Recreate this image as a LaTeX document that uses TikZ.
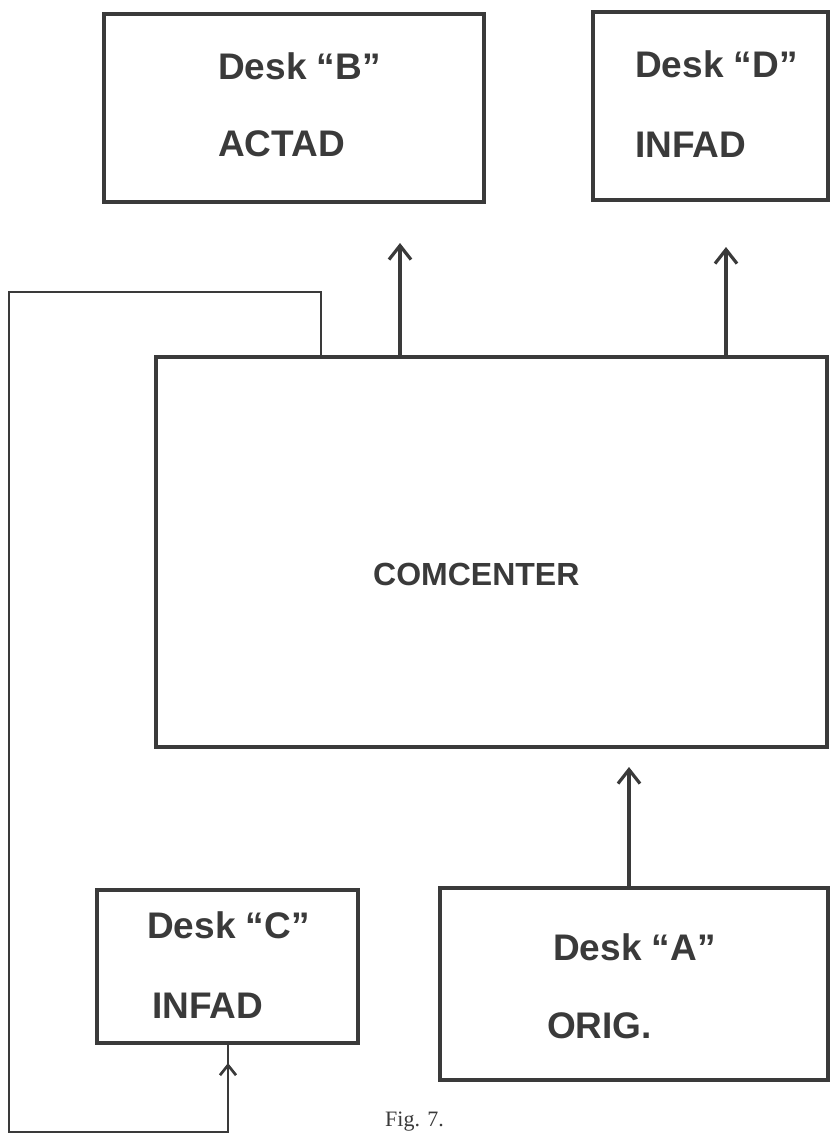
\documentclass[tikz,border=0pt]{standalone}
\usepackage{fontspec}
\setmainfont{Liberation Sans}
\newfontfamily\capfont{Liberation Serif}
\usetikzlibrary{arrows.meta}
\definecolor{ink}{HTML}{3A3A3A}
\begin{document}
\begin{tikzpicture}[x=1pt,y=-1pt,
  box/.style={draw=ink, line width=4pt, rectangle, inner sep=0pt},
  lbl/.style={anchor=base west, inner sep=0pt, text=ink, font=\fontsize{37}{40}\selectfont\bfseries},
  comlbl/.style={anchor=base west, inner sep=0pt, text=ink, font=\fontsize{32}{36}\selectfont\bfseries},
  flow/.style={draw=ink, line width=3.2pt, -{Straight Barb[length=14pt,width=22pt,line width=3.2pt]}},
  loopline/.style={draw=ink, line width=2.7pt},
  looparrow/.style={draw=ink, line width=2.7pt, -{Straight Barb[length=10pt,width=16pt,line width=2.7pt]}}]
\useasboundingbox (0,0) rectangle (831,1134);

% boxes
\node[box, minimum width=380pt, minimum height=188pt] (B) at (294,108) {};
\node[box, minimum width=235pt, minimum height=188pt] (D) at (710.5,106) {};
\node[box, minimum width=671pt, minimum height=390pt] (COM) at (491.5,552) {};
\node[box, minimum width=388pt, minimum height=192pt] (A) at (634,984) {};
\node[box, minimum width=261pt, minimum height=153pt] (C) at (227.5,966.5) {};

% labels
\node[lbl] (tB1) at (218,80) {Desk “B”};
\node[lbl] (tB2) at (218,157) {ACTAD};
\node[lbl] (tD1) at (635,78) {Desk “D”};
\node[lbl] (tD2) at (635,158) {INFAD};
\node[comlbl] (tCom) at (373,585) {COMCENTER};
\node[lbl] (tC1) at (147,938) {Desk “C”};
\node[lbl] (tC2) at (152,1018) {INFAD};
\node[lbl] (tA1) at (553,960) {Desk “A”};
\node[lbl] (tA2) at (547,1038) {ORIG.};
\node[anchor=base west, inner sep=0pt, text=ink, font=\capfont\fontsize{22}{24}\selectfont] (fig) at (385,1126) {Fig. 7.};

% arrows
\coordinate (bt) at (400,243);
\coordinate (dt) at (726,247);
\coordinate (at) at (629,767);
\draw[flow] (bt |- COM.north) -- (bt);
\draw[flow] (dt |- COM.north) -- (dt);
\draw[flow] (at |- A.north) -- (at);

% loop from COMCENTER to Desk C
\coordinate (l1) at (321,292);
\coordinate (l2) at (9,1132);
\coordinate (l3) at (228,1132);
\coordinate (ah) at (228,1063);
\draw[loopline] (l1 |- COM.north) -- (l1) -| (l2) -- (l3) -- (ah |- C.south);
\draw[looparrow] (l3) -- (ah);
\end{tikzpicture}
\end{document}
